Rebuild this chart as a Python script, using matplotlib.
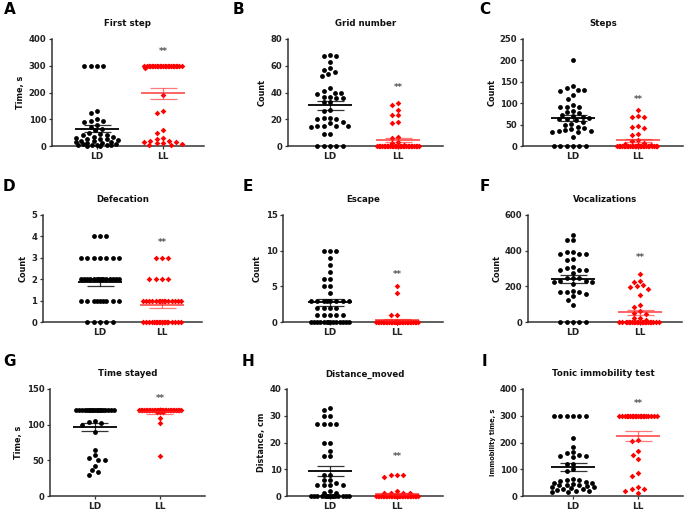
import numpy as np
import matplotlib
matplotlib.use("Agg")
import matplotlib.pyplot as plt

# ---------------- data ----------------
groups = ["LD", "LL"]
letters = ["A", "B", "C", "D", "E", "F", "G", "H", "I"]
titles = ["First step", "Grid number", "Steps", "Defecation", "Escape",
          "Vocalizations", "Time stayed", "Distance_moved", "Tonic immobility test"]
ylabels = ["Time, s", "Count", "Count", "Count", "Count", "Count",
           "Time, s", "Distance, cm", "Immobility time, s"]
ymax = [400, 80, 250, 5, 15, 600, 150, 40, 400]
ystep = [100, 20, 50, 1, 5, 200, 50, 10, 100]
star_y = [355, 44, 109, 3.7, 6.7, 360, 136, 14.7, 346]
star_text = "**"

first_step_ld = [300, 300, 300, 300, 130, 122, 100, 95, 92, 88, 80, 72, 65, 58, 50, 45, 42, 40,
                 35, 32, 30, 28, 27, 25, 22, 20, 18, 15, 14, 12, 10, 8, 6, 5, 5, 4, 3, 2, 1, 0]
first_step_ll = [300, 300, 300, 300, 300, 300, 300, 300, 300, 300, 300, 300, 300, 300, 300, 300,
                 300, 300, 300, 300, 300, 300, 300, 290, 192, 130, 122, 58, 48, 30, 28, 20, 18,
                 15, 14, 12, 10, 8, 5, 2]

grid_ld = [68, 67, 67, 63, 58, 57, 55, 54, 52, 43, 41, 40, 40, 39, 37, 37, 36, 36, 33, 33, 27,
           26, 21, 21, 20, 20, 18, 17, 15, 15, 15, 15, 14, 9, 9, 0, 0, 0, 0, 0]
grid_ll = [32, 31, 27, 23, 23, 18, 17, 7, 6, 3, 2, 1, 0, 0, 0, 0, 0, 0, 0, 0, 0, 0, 0, 0, 0, 0,
           0, 0, 0, 0, 0, 0, 0, 0, 0, 0, 0, 0, 0, 0]

steps_ld = [200, 140, 135, 132, 130, 128, 118, 110, 95, 92, 90, 90, 82, 80, 78, 72, 70, 68, 65,
            64, 62, 60, 55, 52, 50, 45, 42, 40, 38, 35, 35, 33, 32, 20, 0, 0, 0, 0, 0, 0]
steps_ll = [83, 70, 68, 67, 47, 45, 42, 28, 25, 15, 12, 8, 5, 3, 2, 0, 0, 0, 0, 0, 0, 0, 0, 0,
            0, 0, 0, 0, 0, 0, 0, 0, 0, 0, 0, 0, 0, 0, 0, 0]

defecation_ld = [4, 4, 4, 3, 3, 3, 3, 3, 3, 3, 2, 2, 2, 2, 2, 2, 2, 2, 2, 2, 2, 2, 2, 2, 2,
                 1, 1, 1, 1, 1, 1, 1, 1, 1, 0, 0, 0, 0, 0]
defecation_ll = [3, 3, 3, 2, 2, 2, 2, 1, 1, 1, 1, 1, 1, 1, 1, 1, 1, 1, 1, 1, 1, 1,
                 0, 0, 0, 0, 0, 0, 0, 0, 0, 0, 0, 0, 0, 0, 0, 0, 0, 0]

escape_ld = [10, 10, 10, 9, 8, 7, 6, 6, 5, 5, 4, 3, 3, 3, 3, 3, 3, 3, 3, 2, 2, 2, 2,
             1, 1, 1, 1, 1, 0, 0, 0, 0, 0, 0, 0, 0, 0, 0, 0, 0, 0, 0]
escape_ll = [5, 4, 1, 1, 0, 0, 0, 0, 0, 0, 0, 0, 0, 0, 0, 0, 0, 0, 0, 0, 0, 0, 0, 0, 0, 0,
             0, 0, 0, 0, 0, 0, 0, 0, 0, 0, 0, 0, 0, 0]

vocal_ld = [489, 460, 460, 394, 394, 383, 379, 379, 354, 350, 310, 301, 294, 294, 294, 275,
            246, 246, 246, 231, 231, 227, 227, 212, 176, 170, 170, 170, 155, 144, 125, 98,
            0, 0, 0, 0, 0]
vocal_ll = [270, 230, 225, 205, 200, 195, 185, 150, 95, 85, 60, 50, 45, 25, 20, 10,
            0, 0, 0, 0, 0, 0, 0, 0, 0, 0, 0, 0, 0, 0, 0, 0, 0, 0, 0, 0, 0, 0]

stay_ld = [120, 120, 120, 120, 120, 120, 120, 120, 120, 120, 120, 120, 120, 120, 120, 120, 120,
           120, 120, 105, 104, 103, 100, 90, 64, 57, 53, 51, 50, 42, 36, 33, 30]
stay_ll = [120, 120, 120, 120, 120, 120, 120, 120, 120, 120, 120, 120, 120, 120, 120, 120, 120,
           120, 120, 120, 120, 120, 120, 120, 120, 120, 120, 120, 120, 120, 118, 118, 118, 110,
           102, 56]

dist_ld = [33, 32, 30, 30, 27, 27, 27, 27, 20, 20, 17, 15, 15, 8, 8, 6, 6, 5, 4, 4, 4, 4, 2, 1,
           1, 0, 0, 0, 0, 0, 0, 0, 0, 0, 0, 0, 0, 0, 0, 0]
dist_ll = [8, 8, 8, 7, 2, 1, 1, 1, 1, 0, 0, 0, 0, 0, 0, 0, 0, 0, 0, 0, 0, 0, 0, 0, 0, 0, 0, 0,
           0, 0, 0, 0, 0, 0, 0, 0, 0, 0, 0, 0]

tonic_ld = [300, 300, 300, 300, 300, 300, 215, 185, 165, 160, 155, 150, 148, 145, 120, 118, 100,
            95, 65, 60, 58, 55, 52, 50, 48, 45, 42, 40, 40, 38, 35, 32, 30, 28, 25, 22, 20, 18,
            15, 15]
tonic_ll = [300, 300, 300, 300, 300, 300, 300, 300, 300, 300, 300, 300, 300, 300, 300, 300, 300,
            300, 300, 300, 210, 205, 170, 155, 140, 85, 75, 35, 28, 25, 20, 12]

series_ld = [first_step_ld, grid_ld, steps_ld, defecation_ld, escape_ld, vocal_ld,
             stay_ld, dist_ld, tonic_ld]
series_ll = [first_step_ll, grid_ll, steps_ll, defecation_ll, escape_ll, vocal_ll,
             stay_ll, dist_ll, tonic_ll]

# ---------------- layout (pixels in a 685x512 canvas) ----------------
W, H = 685, 512
axes_px = [(52, 39, 204, 146), (288, 39, 443, 146), (523, 39, 683, 146),
           (43, 215, 202, 322), (283, 215, 443, 322), (528, 215, 682, 322),
           (50, 389, 205, 496), (287, 389, 443, 496), (523, 389, 683, 496)]
group_px = [(97, 163), (330, 398), (573, 638),
            (100, 162), (330, 397), (573, 640),
            (95, 160), (330, 397), (573, 638)]
letter_px = [(4, 14), (233, 14), (479, 14),
             (3, 191), (243, 191), (480, 191),
             (3, 366), (242, 366), (482, 366)]
ylabel_size = [5.9, 5.9, 5.9, 5.9, 5.9, 5.9, 5.9, 5.9, 4.8]

FONT = "DejaVu Sans"
AXC = "#333333"
SPX = 6.4         # horizontal spacing between neighbours, px
SPY = 4.8         # vertical closeness that forces a side step, px
HALF = 21.0       # max half-width of swarm, px

fig = plt.figure(figsize=(W / 100, H / 100), dpi=100)


def swarm_x(ax, xc, vals):
    vals = np.asarray(vals, dtype=float)
    tr = ax.transData
    ypx = tr.transform(np.column_stack([np.full(len(vals), xc), vals]))[:, 1]
    ppu = tr.transform((xc + 1, 0))[0] - tr.transform((xc, 0))[0]
    step = SPX / 4.0
    k = np.arange(1, int(HALF / step) + 1) * step
    cands = [0.0]
    for v in k:
        cands += [-v, v]
    cands = np.array(cands)
    order = np.argsort(-vals, kind="stable")
    px_list, py_list = [], []
    offs = np.zeros(len(vals))
    for i in order:
        y = ypx[i]
        best = 0.0
        if px_list:
            px = np.array(px_list)
            py = np.array(py_list)
            near = np.abs(py - y) < SPY
            best = None
            best_md, best_c = -1.0, 0.0
            for c in cands:
                if near.any():
                    md = np.min(np.hypot((px[near] - c) / SPX, (py[near] - y) / SPY))
                else:
                    md = np.inf
                if md >= 0.98:
                    best = c
                    break
                if md > best_md + 1e-6:
                    best_md, best_c = md, c
            if best is None:
                best = best_c
        offs[i] = best
        px_list.append(best)
        py_list.append(y)
    return xc + offs / ppu


for p in range(9):
    l, t, r, b = axes_px[p]
    ax = fig.add_axes([l / W, 1 - b / H, (r - l) / W, (b - t) / H])
    g0, g1 = group_px[p]
    unit = g1 - g0
    ax.set_xlim((l - g0) / unit, 1 + (r - g1) / unit)
    ax.set_ylim(0, ymax[p])
    ax.set_yticks(np.arange(0, ymax[p] + ystep[p] * 0.5, ystep[p]))
    ax.set_xticks([0, 1])
    ax.set_xticklabels(groups)
    for s in ("top", "right"):
        ax.spines[s].set_visible(False)
    for s in ("left", "bottom"):
        ax.spines[s].set_color(AXC)
        ax.spines[s].set_linewidth(1.1)
    ax.tick_params(axis="y", length=2.5, width=0.9, color=AXC, pad=1.5)
    ax.tick_params(axis="x", length=2.5, width=0.9, color=AXC, pad=2.0)
    for lab in ax.get_yticklabels():
        lab.set_fontsize(6.1)
        lab.set_fontweight("bold")
        lab.set_fontfamily(FONT)
        lab.set_color("#222222")
    for lab in ax.get_xticklabels():
        lab.set_fontsize(6.5)
        lab.set_fontweight("bold")
        lab.set_fontfamily(FONT)
        lab.set_color("#222222")
    ax.set_ylabel(ylabels[p], fontsize=ylabel_size[p], fontweight="bold",
                  family=FONT, labelpad=2.5, color="#111111")
    ax.set_title(titles[p], fontsize=6.2, fontweight="bold", family=FONT,
                 pad=9, color="#111111")

    for gi, (vals, col, mk, ms, lcol) in enumerate(
            [(series_ld[p], "#000000", "o", 12, "#000000"),
             (series_ll[p], "#ff0000", "D", 8.5, "#ff2020")]):
        xs = swarm_x(ax, gi, vals)
        ax.scatter(xs, vals, s=ms, marker=mk, color=col, linewidths=0,
                   zorder=3, clip_on=False)
        v = np.asarray(vals, dtype=float)
        m = v.mean()
        se = v.std(ddof=1) / np.sqrt(len(v))
        hw_mean = 22.0 / unit
        hw_cap = 13.5 / unit
        alpha = 1.0 if gi == 0 else 0.75
        ax.hlines(m, gi - hw_mean, gi + hw_mean, color=lcol, lw=1.3,
                  zorder=4, alpha=alpha)
        ax.hlines([m - se, m + se], gi - hw_cap, gi + hw_cap, color=lcol,
                  lw=0.9, zorder=4, alpha=alpha * 0.8)
        ax.vlines(gi, m - se, m + se, color=lcol, lw=0.9, zorder=4,
                  alpha=alpha * 0.8)

    ax.text(1, star_y[p], star_text, ha="center", va="center", fontsize=6.3,
            fontweight="bold", family=FONT, color="#555555")

    lx, ly = letter_px[p]
    fig.text(lx / W, 1 - ly / H, letters[p], fontsize=11, fontweight="bold",
             family=FONT, ha="left", va="baseline", color="#000000")

fig.savefig("out.png", dpi=100)
